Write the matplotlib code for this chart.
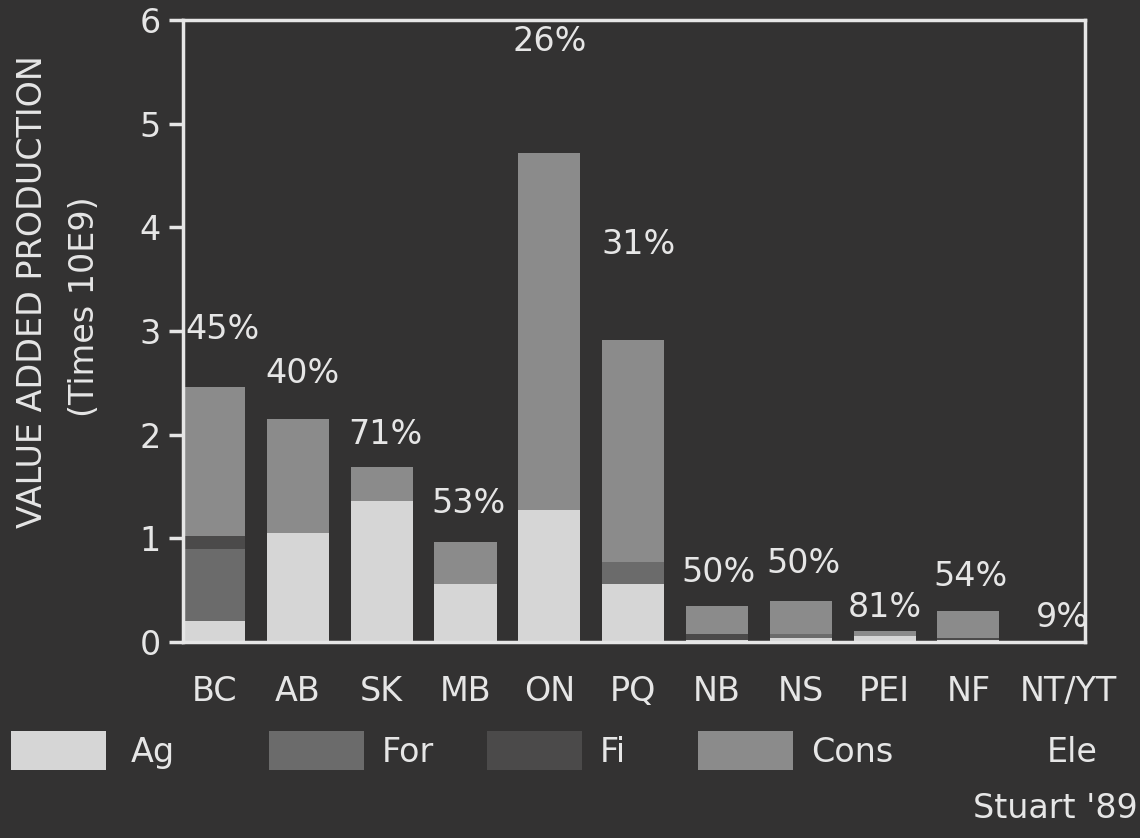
import matplotlib.pyplot as plt
import matplotlib.transforms as mtransforms
from matplotlib.patches import Rectangle
import numpy as np

# Provinzen und Werte (Milliarden $)
provinces = ['BC', 'AB', 'SK', 'MB', 'ON', 'PQ', 'NB', 'NS', 'PEI', 'NF', 'NT/YT']
ag = [0.20, 1.05, 1.36, 0.56, 1.27, 0.56, 0.02, 0.04, 0.06, 0.02, 0.0]
forest = [0.70, 0.0, 0.0, 0.0, 0.0, 0.21, 0.0, 0.04, 0.0, 0.0, 0.0]
fish = [0.12, 0.0, 0.0, 0.0, 0.0, 0.0, 0.06, 0.0, 0.0, 0.02, 0.0]
cons = [1.44, 1.10, 0.33, 0.40, 3.45, 2.14, 0.27, 0.32, 0.05, 0.26, 0.0]
ele = [0.0] * 11
pct_labels = ['45%', '40%', '71%', '53%', '26%', '31%', '50%', '50%', '81%', '54%', '9%']

series_names = ['Ag', 'For', 'Fi', 'Cons', 'Ele']
series_values = [ag, forest, fish, cons, ele]

bg = '#333232'
fg = '#e6e6e6'
colors = ['#d6d6d6', '#6b6b6b', '#4b4a4a', '#8b8b8b', bg]

# Layout der Prozent-Beschriftungen (Höhe in Dateneinheiten, x-Versatz)
pct_y = [3.01, 2.59, 2.00, 1.34, 5.79, 3.83, 0.67, 0.76, 0.33, 0.63, 0.24]
pct_dx = [0.10, 0.05, 0.05, 0.03, 0.0, 0.07, 0.02, 0.03, 0.0, 0.03, 0.12]

fs = 24
plt.rcParams['font.family'] = 'DejaVu Sans'

fig = plt.figure(figsize=(11.4, 8.38), dpi=100, facecolor=bg)
ax = fig.add_axes([183 / 1140, 1 - 642 / 838, 902 / 1140, 622 / 838])
ax.set_facecolor(bg)

x = np.arange(len(provinces))
bottom = np.zeros(len(provinces))
for name, vals, col in zip(series_names, series_values, colors):
    ax.bar(x, vals, width=0.74, bottom=bottom, color=col, linewidth=0, label=name)
    bottom += np.array(vals)

for i, lab in enumerate(pct_labels):
    ax.text(x[i] + pct_dx[i], pct_y[i], lab, ha='center', va='center',
            color=fg, fontsize=fs, clip_on=False, zorder=5)

ax.set_xlim(-0.37, 10.39)
ax.set_ylim(0, 6)
ax.set_yticks(range(7))
ax.set_xticks(x)
ax.set_xticklabels(provinces)
ax.tick_params(axis='y', direction='out', length=10, width=2.5, color=fg,
               labelcolor=fg, labelsize=fs, pad=6)
ax.tick_params(axis='x', length=0, labelcolor=fg, labelsize=fs, pad=24)
for s in ax.spines.values():
    s.set_color(fg)
    s.set_linewidth(2.5)

# NT/YT steht im Original etwas weiter rechts
last = ax.get_xticklabels()[-1]
last.set_transform(last.get_transform() +
                   mtransforms.ScaledTranslation(0.16, 0, fig.dpi_scale_trans))

fig.text(33 / 1140, 1 - 292 / 838, 'VALUE ADDED PRODUCTION', rotation=90,
         ha='center', va='center', color=fg, fontsize=fs)
fig.text(85 / 1140, 1 - 307 / 838, '(Times 10E9)', rotation=90,
         ha='center', va='center', color=fg, fontsize=fs)

# Legende unten von Hand
sw_x = [11, 269, 487, 698, 915]
tx_x = [131, 382, 600, 811, 1047]
for name, col, sx, tx in zip(series_names, colors, sw_x, tx_x):
    fig.add_artist(Rectangle((sx / 1140, 1 - 770 / 838), 95 / 1140, 39 / 838,
                             transform=fig.transFigure, color=col, lw=0))
    fig.text(tx / 1140, 1 - 752 / 838, name, ha='left', va='center',
             color=fg, fontsize=fs)

fig.text(1138 / 1140, 1 - 808 / 838, "Stuart '89", ha='right', va='center',
         color=fg, fontsize=fs)

fig.savefig('out.png', dpi=100, facecolor=bg)
